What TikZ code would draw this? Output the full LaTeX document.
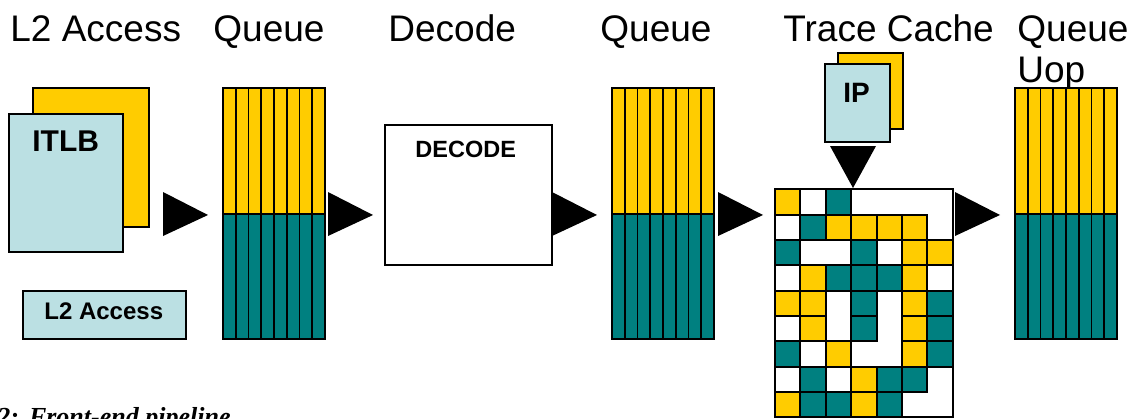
\documentclass[tikz,border=0pt]{standalone}
\usepackage{fontspec}
\setmainfont{Liberation Sans}
\newfontfamily\capfont{Liberation Serif}
\usetikzlibrary{positioning}

\definecolor{qyellow}{HTML}{FFCC00}
\definecolor{qteal}{HTML}{008080}
\definecolor{qblue}{HTML}{BBE0E3}

\tikzset{
  card/.style={draw=black, line width=0.8pt},
  stage/.style={inner sep=0pt, anchor=base west, font=\fontsize{18.5}{22}\selectfont},
  tag/.style={inner sep=0pt, anchor=base west, font=\bfseries\fontsize{12}{14}\selectfont},
  pipe arrow/.style={fill=black},
  slot/.style={draw=black, line width=0.9pt},
  cell Y/.style={fill=qyellow, draw=black, line width=1pt},
  cell T/.style={fill=qteal, draw=black, line width=1pt},
  cell W/.style={},
}

\begin{document}
\begin{tikzpicture}[x=0.5pt, y=-0.5pt]
\useasboundingbox (0,0) rectangle (1135,418);

% stage titles
\node[stage] (lblL2) at (10,41) {L2 Access};
\node[stage] (lblQ1) at (213,41) {Queue};
\node[stage] (lblDec) at (388,41) {Decode};
\node[stage] (lblQ2) at (600,41) {Queue};
\node[stage] (lblTC) at (783,41) {Trace Cache};
\node[stage] (lblQ3) at (1017,41) {Queue};
\node[stage] (lblUop) at ([yshift=-20.8pt]lblQ3.base west) {Uop};

% ITLB and L2
\draw[card, fill=qyellow] (33,88) rectangle (149,227);
\draw[card, fill=qblue] (9,114) rectangle (123,252);
\node[tag, font=\bfseries\fontsize{15}{17}\selectfont] (itlb) at (32,151) {ITLB};
\draw[card, fill=qblue] (23,291) rectangle (186,339);
\node[tag] (l2) at (44,319) {L2 Access};

% decoder
\draw[card, fill=white] (385,125) rectangle (552,265);
\node[tag, font=\bfseries\fontsize{11.75}{14}\selectfont] (decode) at (415,157) {DECODE};

% IP
\draw[card, fill=qyellow] (838,53) rectangle (903,129);
\draw[card, fill=qblue] (825,64) rectangle (890,142);
\node[tag, font=\bfseries\fontsize{14}{16}\selectfont] (ip) at (843,102) {IP};
\fill[pipe arrow] (830,146) -- (876,146) -- (853,188) -- cycle;

% queues
\foreach \q in {223,612,1015} {
  \fill[qyellow] (\q,88) rectangle ++(102,126);
  \fill[qteal] (\q,214) rectangle ++(102,125);
  \foreach \i in {0,...,7}
    \draw[slot] (\q+\i*12.75,88) rectangle ++(12.75,251);
  \draw[slot] (\q,214) -- ++(102,0);
}

% pipeline arrows
\foreach \x in {163,328,552,718,955}
  \fill[pipe arrow] (\x,192) -- ++(45,23) -- ++(-45,21) -- cycle;

% trace cache
\foreach \cells [count=\r from 0] in {
    {Y,W,T,W,W,W,W},
    {W,T,Y,Y,Y,Y,W},
    {T,W,W,T,W,Y,Y},
    {W,Y,T,T,T,Y,W},
    {Y,Y,W,T,W,Y,T},
    {W,Y,W,T,W,Y,T},
    {T,W,Y,W,W,Y,T},
    {W,T,W,Y,T,T,W},
    {Y,T,T,Y,T,W,W}}
  \foreach \c [count=\k from 0] in \cells
    \path[cell \c] (775+\k*25.4,189.3+\r*25.33) rectangle ++(25.4,25.33);
\draw[line width=1pt] (775,189.3) rectangle (952.8,417.3);

% caption, cut by the page edge
\node[inner sep=0pt, anchor=base west, font=\capfont\bfseries\itshape\fontsize{13}{15}\selectfont] (caption) at (-3,425) {2:\hspace{5pt}Front-end pipeline};
\end{tikzpicture}
\end{document}
